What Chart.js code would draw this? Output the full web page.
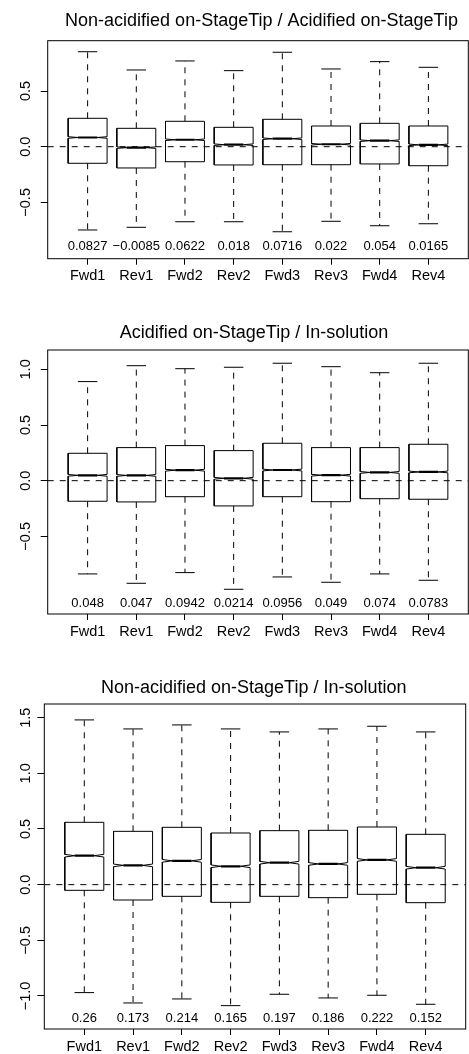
<!DOCTYPE html>
<html><head><meta charset="utf-8">
<script src="https://cdn.jsdelivr.net/npm/chart.js@4.4.0/dist/chart.umd.min.js"></script>
<style>
html,body{margin:0;padding:0;background:#fff;overflow:hidden;width:469px;height:1054px;}
canvas{position:absolute;left:0;}
</style></head><body>
<canvas id="c1"></canvas>
<canvas id="c2"></canvas>
<canvas id="c3"></canvas>
<script>
const categories = ['Fwd1','Rev1','Fwd2','Rev2','Fwd3','Rev3','Fwd4','Rev4'];
const titles = ['Non-acidified on-StageTip / Acidified on-StageTip',
                'Acidified on-StageTip / In-solution',
                'Non-acidified on-StageTip / In-solution'];

// Panel 1
const p1Upper  = [0.853, 0.689, 0.770, 0.683, 0.848, 0.698, 0.764, 0.713];
const p1Q3     = [0.255, 0.165, 0.228, 0.174, 0.246, 0.186, 0.210, 0.186];
const p1Median = [0.0827, -0.0085, 0.0622, 0.018, 0.0716, 0.022, 0.054, 0.0165];
const p1Q1     = [-0.149, -0.191, -0.135, -0.164, -0.162, -0.162, -0.155, -0.171];
const p1Lower  = [-0.748, -0.724, -0.674, -0.674, -0.764, -0.670, -0.710, -0.692];
const p1Notch  = [0.007, 0.007, 0.007, 0.007, 0.007, 0.007, 0.007, 0.007];
const p1YTicks = [-0.5, 0, 0.5];

// Panel 2
const p2Upper  = [0.890, 1.033, 1.006, 1.019, 1.055, 1.024, 0.970, 1.055];
const p2Q3     = [0.246, 0.297, 0.315, 0.270, 0.336, 0.297, 0.297, 0.327];
const p2Median = [0.048, 0.047, 0.0942, 0.0214, 0.0956, 0.049, 0.074, 0.0783];
const p2Q1     = [-0.185, -0.191, -0.144, -0.227, -0.144, -0.189, -0.162, -0.167];
const p2Lower  = [-0.838, -0.922, -0.826, -0.976, -0.865, -0.913, -0.838, -0.895];
const p2Notch  = [0.008, 0.008, 0.008, 0.008, 0.008, 0.008, 0.008, 0.008];
const p2YTicks = [-0.5, 0, 0.5, 1.0];

// Panel 3
const p3Upper  = [1.480, 1.399, 1.435, 1.399, 1.372, 1.399, 1.423, 1.372];
const p3Q3     = [0.560, 0.479, 0.515, 0.464, 0.485, 0.488, 0.518, 0.452];
const p3Median = [0.26, 0.173, 0.214, 0.165, 0.197, 0.186, 0.222, 0.152];
const p3Q1     = [-0.051, -0.138, -0.105, -0.159, -0.105, -0.117, -0.087, -0.162];
const p3Lower  = [-0.970, -1.063, -1.027, -1.087, -0.985, -1.018, -0.994, -1.075];
const p3Notch  = [0.012, 0.012, 0.012, 0.012, 0.012, 0.012, 0.012, 0.012];
const p3YTicks = [-1.0, -0.5, 0, 0.5, 1.0, 1.5];

const FONT = "'Liberation Sans', Arial, Helvetica, sans-serif";
const X_MIN = 0.18, X_MAX = 8.82;
const BOX_HALF = 0.4, NOTCH_FRAC = 0.5, STAPLE_HALF = 0.2;

const panels = [
  {id:'c1', top:0,   height:306, ct:40.7, cb:258.7, cl:47.7, cr:468.3, yMin:-1.006, yMax:0.952, labelY:-0.892,
   titleX:261.5, titleBase:26, yLabelX:25.5,
   title:titles[0], upper:p1Upper, q3:p1Q3, median:p1Median, q1:p1Q1, lower:p1Lower, notch:p1Notch, yTicks:p1YTicks},
  {id:'c2', top:310, height:348, ct:350, cb:614, cl:47.7, cr:468.3, yMin:-1.198, yMax:1.174, labelY:-1.10,
   titleX:254, titleBase:337.5, yLabelX:25.5,
   title:titles[1], upper:p2Upper, q3:p2Q3, median:p2Median, q1:p2Q1, lower:p2Lower, notch:p2Notch, yTicks:p2YTicks},
  {id:'c3', top:660, height:394, ct:704, cb:1029, cl:44.3, cr:465.7, yMin:-1.297, yMax:1.623, labelY:-1.20,
   titleX:253.7, titleBase:692.5, yLabelX:25.5,
   title:titles[2], upper:p3Upper, q3:p3Q3, median:p3Median, q1:p3Q1, lower:p3Lower, notch:p3Notch, yTicks:p3YTicks}
];

const fmtNum = v => String(v).replace('-', '\u2212');
const fmtTick = v => v.toFixed(1).replace('-', '\u2212');

function makeChart(p) {
  const el = document.getElementById(p.id);
  el.width = 469; el.height = p.height;
  el.style.top = p.top + 'px';
  el.style.width = '469px'; el.style.height = p.height + 'px';

  const box = [], med = [], whisk = [], staple = [];
  p.median.forEach((m, i) => {
    const c = i + 1, n = p.notch[i], lo = p.q1[i], hi = p.q3[i];
    box.push({x:c-BOX_HALF,y:lo},{x:c+BOX_HALF,y:lo},{x:c+BOX_HALF,y:m-n},{x:c+NOTCH_FRAC*BOX_HALF,y:m},
             {x:c+BOX_HALF,y:m+n},{x:c+BOX_HALF,y:hi},{x:c-BOX_HALF,y:hi},{x:c-BOX_HALF,y:m+n},
             {x:c-NOTCH_FRAC*BOX_HALF,y:m},{x:c-BOX_HALF,y:m-n},{x:c-BOX_HALF,y:lo},{x:c,y:null});
    med.push({x:c-NOTCH_FRAC*BOX_HALF,y:m},{x:c+NOTCH_FRAC*BOX_HALF,y:m},{x:c,y:null});
    whisk.push({x:c,y:hi},{x:c,y:p.upper[i]},{x:c,y:null},{x:c,y:lo},{x:c,y:p.lower[i]},{x:c,y:null});
    staple.push({x:c-STAPLE_HALF,y:p.upper[i]},{x:c+STAPLE_HALF,y:p.upper[i]},{x:c,y:null},
                {x:c-STAPLE_HALF,y:p.lower[i]},{x:c+STAPLE_HALF,y:p.lower[i]},{x:c,y:null});
  });
  const zero = [{x:X_MIN,y:0},{x:X_MAX,y:0}];
  const base = {pointRadius:0, pointHoverRadius:0, fill:false, tension:0, spanGaps:false, borderColor:'#000', borderJoinStyle:'miter'};

  const deco = {
    id:'deco'+p.id,
    afterDraw(chart) {
      const ctx = chart.ctx, a = chart.chartArea, xs = chart.scales.x, ys = chart.scales.y;
      ctx.save();
      ctx.strokeStyle = '#000'; ctx.lineWidth = 1;
      ctx.strokeRect(a.left, a.top, a.right - a.left, a.bottom - a.top);
      ctx.fillStyle = '#000';
      ctx.font = '14.5px ' + FONT;
      ctx.textAlign = 'center'; ctx.textBaseline = 'middle';
      ys.ticks.forEach(t => {
        const y = ys.getPixelForValue(t.value);
        ctx.save(); ctx.translate(p.yLabelX, y); ctx.rotate(-Math.PI/2);
        ctx.fillText(fmtTick(t.value), 0, 0); ctx.restore();
      });
      ctx.font = '13px ' + FONT;
      p.median.forEach((m, i) => {
        ctx.fillText(fmtNum(m), xs.getPixelForValue(i + 1), ys.getPixelForValue(p.labelY));
      });
      ctx.font = '18px ' + FONT;
      ctx.textBaseline = 'alphabetic';
      ctx.fillText(p.title, p.titleX, p.titleBase - p.top);
      ctx.restore();
    }
  };

  return new Chart(el, {
    type:'line',
    data:{datasets:[
      Object.assign({data:zero, borderWidth:1, borderDash:[6,6]}, base),
      Object.assign({data:whisk, borderWidth:1, borderDash:[6,6]}, base),
      Object.assign({data:staple, borderWidth:1}, base),
      Object.assign({data:box, borderWidth:1}, base),
      Object.assign({data:med, borderWidth:2.2}, base)
    ]},
    options:{
      responsive:false, animation:false, devicePixelRatio:1,
      events:[],
      layout:{padding:{top:p.ct - p.top, right:469 - p.cr, left:0, bottom:0}},
      plugins:{legend:{display:false}, tooltip:{enabled:false}, title:{display:false}},
      scales:{
        x:{type:'linear', min:X_MIN, max:X_MAX,
           afterBuildTicks: s => { s.ticks = categories.map((c, i) => ({value:i + 1})); },
           afterFit: s => { s.height = p.top + p.height - p.cb; },
           ticks:{callback: v => categories[Math.round(v) - 1], autoSkip:false, maxRotation:0, minRotation:0,
                  padding:3, color:'#000', font:{family:FONT, size:14.5}},
           grid:{drawOnChartArea:false, drawTicks:true, tickLength:6, color:'#000', tickColor:'#000', tickWidth:1},
           border:{display:false}},
        y:{type:'linear', min:p.yMin, max:p.yMax,
           afterBuildTicks: s => { s.ticks = p.yTicks.map(v => ({value:v})); },
           afterFit: s => { s.width = p.cl; },
           ticks:{display:false},
           grid:{drawOnChartArea:false, drawTicks:true, tickLength:7, color:'#000', tickColor:'#000', tickWidth:1},
           border:{display:false}}
      }
    },
    plugins:[deco]
  });
}
panels.forEach(makeChart);
</script>
</body></html>
